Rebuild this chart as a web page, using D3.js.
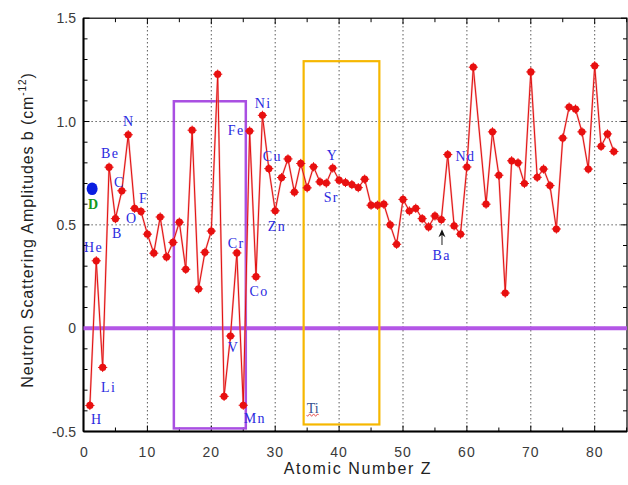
<!DOCTYPE html>
<html><head><meta charset="utf-8">
<script src="https://cdn.jsdelivr.net/npm/d3@7/dist/d3.min.js"></script>
<style>
html,body{margin:0;padding:0;background:#fff;}
svg{display:block;}
</style></head>
<body>
<svg id="c" width="628" height="485"></svg>
<script>
// ---- data ----
const atomicNumbers = [1,2,3,4,5,6,7,8,9,10,11,12,13,14,15,16,17,18,19,20,21,22,23,24,25,26,27,28,29,30,31,32,33,34,35,36,37,38,39,40,41,42,43,44,45,46,47,48,49,50,51,52,53,54,55,56,57,58,59,60,61,63,64,65,66,67,68,69,70,71,72,73,74,75,76,77,78,79,80,81,82,83];
const amplitudes = [-0.374,0.326,-0.19,0.779,0.53,0.665,0.936,0.58,0.565,0.455,0.363,0.538,0.345,0.415,0.513,0.285,0.958,0.19,0.367,0.47,1.229,-0.33,-0.038,0.364,-0.373,0.954,0.249,1.03,0.772,0.568,0.729,0.819,0.658,0.797,0.679,0.781,0.708,0.702,0.775,0.716,0.705,0.695,0.68,0.721,0.595,0.595,0.60,0.50,0.406,0.623,0.567,0.58,0.53,0.49,0.543,0.525,0.84,0.495,0.455,0.78,1.263,0.60,0.95,0.74,0.17,0.81,0.80,0.70,1.24,0.73,0.77,0.69,0.48,0.92,1.07,1.06,0.95,0.77,1.27,0.88,0.94,0.855];
const deuterium = {z:1.35, b:0.675, label:"D"};
const xTicks = [0,10,20,30,40,50,60,70,80];
const yTicks = [-0.5,0,0.5,1.0,1.5];
const yTickLabels = ["-0.5","0","0.5","1.0","1.5"];
const elementLabels = ["He","Be","N","C","B","O","F","H","Li","Fe","Ni","Cu","Zn","Cr","Co","V","Mn","Y","Sr","Ba","Nd"];
const labelZ =       [0.08,2.73,6.17,4.77,4.45,6.64,8.67,1.17,2.73,22.58,26.8,28.05,28.83,22.58,25.98,22.58,25.08,38.05,37.58,54.6,58.2];
const labelB =       [0.368,0.822,0.977,0.682,0.435,0.508,0.605,-0.464,-0.310,0.934,1.064,0.808,0.469,0.387,0.155,-0.116,-0.460,0.813,0.610,0.329,0.808];
const tiLabel = {text:"Ti", z:34.92, b:-0.411};
const purpleBox = {z0:14.14, z1:25.4, b0:-0.485, b1:1.098};
const orangeBox = {z0:34.45, z1:46.3, b0:-0.466, b1:1.292};
const baArrow = {z:56.1, b0:0.402, b1:0.479};

// ---- chart ----
const svg = d3.select("#c");
const L=83.5, R=627, T=18.2, B=431.5;
const x = d3.scaleLinear().domain([0,85]).range([L, L+85*6.39]);
const y = d3.scaleLinear().domain([-0.5,1.5]).range([B, T]);

// grid
const grid = svg.append("g").attr("stroke","#333").attr("stroke-width",1).attr("stroke-dasharray","1.2,2.8");
xTicks.filter(d=>d>0).forEach(d=>{
  grid.append("line").attr("x1",x(d)).attr("x2",x(d)).attr("y1",T).attr("y2",B);
});
[0.5,1.0].forEach(d=>{
  grid.append("line").attr("x1",L).attr("x2",R).attr("y1",y(d)).attr("y2",y(d));
});

// axes with inward ticks
const ax = svg.append("g");
const xMinor = d3.range(0,86,5);
const yMinor = d3.range(-5,16).map(d=>d/10);
xMinor.forEach(d=>{
  const len = d%10===0?6:4;
  ax.append("line").attr("x1",x(d)).attr("x2",x(d)).attr("y1",B).attr("y2",B-len).attr("stroke","#000");
  ax.append("line").attr("x1",x(d)).attr("x2",x(d)).attr("y1",T).attr("y2",T+len).attr("stroke","#000");
});
yMinor.forEach(d=>{
  const len = Math.abs(Math.round(d*10))%5===0?6:4;
  ax.append("line").attr("x1",L).attr("x2",L+len).attr("y1",y(d)).attr("y2",y(d)).attr("stroke","#000");
  ax.append("line").attr("x1",R).attr("x2",R-len).attr("y1",y(d)).attr("y2",y(d)).attr("stroke","#000");
});
ax.append("rect").attr("x",L).attr("y",T).attr("width",R-L).attr("height",B-T)
  .attr("fill","none").attr("stroke","#000").attr("stroke-width",1.2);
ax.append("line").attr("x1",L).attr("x2",L).attr("y1",T).attr("y2",B).attr("stroke","#000").attr("stroke-width",2);
ax.append("line").attr("x1",L).attr("x2",R).attr("y1",B).attr("y2",B).attr("stroke","#000").attr("stroke-width",2);

// tick labels
svg.append("g").selectAll("text").data(xTicks).join("text")
  .attr("x",d=>x(d)+(d===0?1:0)).attr("y",457)
  .attr("text-anchor","middle").attr("font-family","Liberation Sans, Arial, sans-serif")
  .attr("font-size",14).attr("letter-spacing",1).attr("fill","#3a3a3a").text(d=>d);
svg.append("g").selectAll("text").data(yTicks).join("text")
  .attr("x",76).attr("y",d=>y(d)+5)
  .attr("text-anchor","end").attr("font-family","Liberation Sans, Arial, sans-serif")
  .attr("font-size",14).attr("fill","#3a3a3a").text((d,i)=>yTickLabels[i]);

// axis titles
svg.append("text").attr("x",358).attr("y",474).attr("text-anchor","middle")
  .attr("font-family","Liberation Sans, Arial, sans-serif").attr("font-size",16)
  .attr("letter-spacing",1.6).attr("fill","#222").text("Atomic Number Z");
const yt = svg.append("text").attr("transform","translate(33,230) rotate(-90)")
  .attr("text-anchor","middle").attr("font-family","Liberation Sans, Arial, sans-serif")
  .attr("font-size",16).attr("letter-spacing",0.9).attr("fill","#222");
yt.append("tspan").text("Neutron Scattering Amplitudes b (cm");
yt.append("tspan").attr("font-size",10).attr("dy",-7).text("-12");
yt.append("tspan").attr("dy",7).text(")");

// zero line (purple)
svg.append("line").attr("x1",L).attr("x2",R).attr("y1",y(0)).attr("y2",y(0))
  .attr("stroke","#b356e6").attr("stroke-width",4);

// boxes
svg.append("rect").attr("x",x(purpleBox.z0)).attr("y",y(purpleBox.b1))
  .attr("width",x(purpleBox.z1)-x(purpleBox.z0)).attr("height",y(purpleBox.b0)-y(purpleBox.b1))
  .attr("fill","none").attr("stroke","#a94fe2").attr("stroke-width",2.5);
svg.append("rect").attr("x",x(orangeBox.z0)).attr("y",y(orangeBox.b1))
  .attr("width",x(orangeBox.z1)-x(orangeBox.z0)).attr("height",y(orangeBox.b0)-y(orangeBox.b1))
  .attr("fill","none").attr("stroke","#f6b700").attr("stroke-width",2.2);

// data line
const pts = atomicNumbers.map((z,i)=>[z,amplitudes[i]]);
const line = d3.line().x(d=>x(d[0])).y(d=>y(d[1]));
svg.append("path").datum(pts).attr("d",line).attr("fill","none")
  .attr("stroke","#f58080").attr("stroke-width",2).attr("opacity",0.6);
svg.append("path").datum(pts).attr("d",line).attr("fill","none")
  .attr("stroke","#e01010").attr("stroke-width",1);
const mk = svg.append("g");
pts.forEach(d=>{
  const cx=x(d[0]), cy=y(d[1]);
  mk.append("circle").attr("cx",cx).attr("cy",cy).attr("r",3.6).attr("fill","#e81010");
  mk.append("line").attr("x1",cx-4.6).attr("x2",cx+4.6).attr("y1",cy).attr("y2",cy).attr("stroke","#e81010").attr("stroke-width",1);
  mk.append("line").attr("x1",cx).attr("x2",cx).attr("y1",cy-4.6).attr("y2",cy+4.6).attr("stroke","#e81010").attr("stroke-width",1);
});

// deuterium
svg.append("ellipse").attr("cx",x(deuterium.z)).attr("cy",y(deuterium.b)).attr("rx",5.5).attr("ry",6.3).attr("fill","#0a1ee0");
svg.append("text").attr("x",x(0.70)).attr("y",y(0.576)).attr("font-family","Liberation Serif, Times New Roman, serif")
  .attr("font-size",14).attr("font-weight","bold").attr("fill","#139a20").text(deuterium.label);

// element labels
svg.append("g").selectAll("text").data(elementLabels).join("text")
  .attr("x",(d,i)=>x(labelZ[i])).attr("y",(d,i)=>y(labelB[i]))
  .attr("font-family","Liberation Serif, Times New Roman, serif").attr("font-size",14)
  .attr("letter-spacing",1.4).attr("fill","#2a2ae0").text(d=>d);

// Ti label with red squiggle
const tx = x(tiLabel.z), ty = y(tiLabel.b);
svg.append("text").attr("x",tx).attr("y",ty).attr("font-family","Liberation Serif, Times New Roman, serif")
  .attr("font-size",14).attr("fill","#34508f").text(tiLabel.text);
let sq = `M${tx},${ty+2}`;
for(let k=0;k<6;k++){ sq += ` l1,${k%2?-1.2:1.2} l1,${k%2?1.2:-1.2}`; }
svg.append("path").attr("d",sq).attr("fill","none").attr("stroke","#e03030").attr("stroke-width",0.8);

// Ba arrow
const axp = x(baArrow.z);
svg.append("line").attr("x1",axp).attr("x2",axp).attr("y1",y(baArrow.b0)).attr("y2",y(baArrow.b1)+5)
  .attr("stroke","#444").attr("stroke-width",1.2);
svg.append("path").attr("d",`M${axp},${y(baArrow.b1)} l-3.5,8 l3.5,-2.5 l3.5,2.5 z`).attr("fill","#111");
</script>
</body></html>
